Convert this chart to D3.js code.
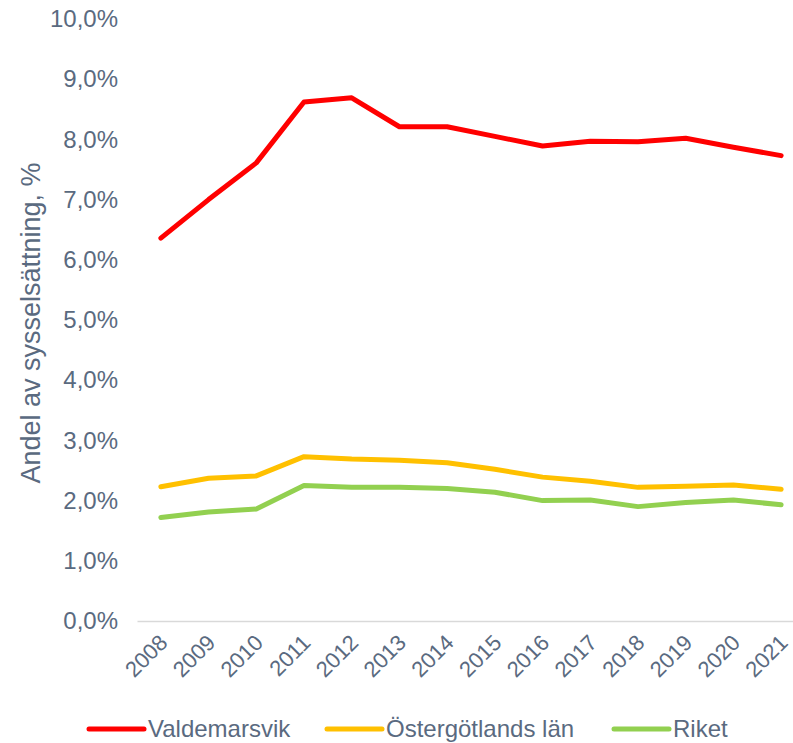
<!DOCTYPE html>
<html>
<head>
<meta charset="utf-8">
<script src="https://cdn.jsdelivr.net/npm/d3@7/dist/d3.min.js"></script>
<style>
  body { margin: 0; background: #fff; }
  text { font-family: "Liberation Sans", Arial, sans-serif; fill: #5a6a80; }
</style>
</head>
<body>
<div id="chart"></div>
<script>
// data
const years = ["2008","2009","2010","2011","2012","2013","2014","2015","2016","2017","2018","2019","2020","2021"];
const valdemarsvik = [6.36, 7.0, 7.61, 8.62, 8.69, 8.21, 8.21, 8.05, 7.89, 7.97, 7.96, 8.02, 7.87, 7.73];
const ostergotland = [2.23, 2.37, 2.41, 2.73, 2.69, 2.67, 2.63, 2.52, 2.39, 2.32, 2.22, 2.24, 2.26, 2.19];
const riket = [1.72, 1.81, 1.86, 2.25, 2.22, 2.22, 2.20, 2.14, 2.00, 2.01, 1.90, 1.97, 2.01, 1.93];
const seriesNames = ["Valdemarsvik", "Östergötlands län", "Riket"];
const yTicks = [0,1,2,3,4,5,6,7,8,9,10];

const palette = ["#ff0000", "#ffc000", "#92d050"];
const series = [valdemarsvik, ostergotland, riket];

// set the dimensions and margins of the graph
// (plot area runs a little past the right edge, like the original)
const W = 793, H = 743;
const margin = {top: 19, left: 137};
const width  = 668;
const height = 602;

const x = d3.scaleBand().domain(years).range([0, width]);
const y = d3.scaleLinear().domain([0, 10]).range([height, 0]);

const svg = d3.select("#chart").append("svg")
    .attr("width", W)
    .attr("height", H);

const g = svg.append("g")
    .attr("transform", "translate(" + margin.left + "," + margin.top + ")");

// y axis labels only
const fmt = v => d3.format(".1f")(v).replace(".", ",") + "%";
g.append("g")
    .call(d3.axisLeft(y).tickValues(yTicks).tickFormat(fmt).tickSize(0).tickPadding(19))
    .call(s => s.select(".domain").remove())
    .selectAll("text")
    .style("font-size", "24px")
    .attr("fill", null);

// x axis
const xAxis = g.append("g")
    .attr("transform", "translate(0," + height + ")")
    .call(d3.axisBottom(x).tickSize(0));
xAxis.select(".domain").attr("stroke", "#d9d9d9").attr("stroke-width", 1.5);
xAxis.selectAll("text")
    .attr("fill", null)
    .style("font-size", "22px")
    .style("text-anchor", "end")
    .attr("dy", null)
    .attr("y", 0)
    .attr("transform", "translate(8,23) rotate(-45)");

// lines
const line = d3.line()
    .x((d, i) => x(years[i]) + x.bandwidth() / 2)
    .y(d => y(d));

series.forEach(function(s, i) {
    g.append("path")
        .datum(s)
        .attr("fill", "none")
        .attr("stroke", palette[i])
        .attr("stroke-width", 5)
        .attr("stroke-linecap", "round")
        .attr("stroke-linejoin", "round")
        .attr("d", line);
});

// y axis title
svg.append("text")
    .attr("transform", "translate(40,323) rotate(-90)")
    .style("text-anchor", "middle")
    .style("font-size", "27px")
    .text("Andel av sysselsättning, %");

// legend
const legendX = [89, 327, 614];
const legend = svg.append("g").attr("transform", "translate(0,729)");
seriesNames.forEach(function(name, i) {
    legend.append("line")
        .attr("x1", legendX[i]).attr("x2", legendX[i] + 55)
        .attr("y1", 0).attr("y2", 0)
        .attr("stroke", palette[i])
        .attr("stroke-width", 5)
        .attr("stroke-linecap", "round");
    legend.append("text")
        .attr("x", legendX[i] + 59)
        .attr("y", 0)
        .attr("dy", "0.35em")
        .style("font-size", "24px")
        .text(name);
});
</script>
</body>
</html>
